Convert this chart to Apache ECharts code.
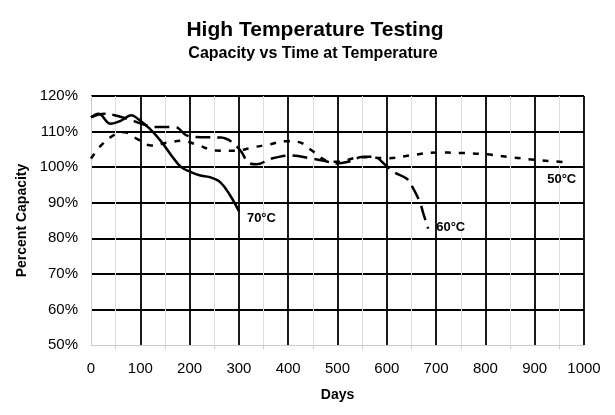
<!DOCTYPE html>
<html><head><meta charset="utf-8">
<script src="https://cdn.jsdelivr.net/npm/echarts@6/dist/echarts.min.js"></script>
<style>html,body{margin:0;padding:0;background:#fff}#c{width:615px;height:415px}</style>
</head><body><div id="c"></div>
<script>
const title = "High Temperature Testing";
const subtitle = "Capacity vs Time at Temperature";
const xName = "Days";
const yName = "Percent Capacity";
const seriesNames = ["70°C", "60°C", "50°C"];
const s70 = [[0,114],[15,115],[40,112.2],[60,113],[82,114.6],[95,113.6],[119,110.8],[143,107.1],[163,103.3],[183,100],[200,98.8],[220,97.7],[241,97.2],[262,95.8],[282,92.1],[300,87.6]];
const s60 = [[0,114],[28,115],[48,114.6],[82,113.2],[102,112.2],[129,111.3],[170,111.3],[193,109],[210,108.5],[264,108.3],[285,107.1],[305,104.3],[319,101.3],[336,100.8],[366,102.4],[407,103.3],[448,102.4],[475,101.7],[498,101],[522,101.5],[552,102.9],[572,102.9],[600,100.3],[613,98.7],[640,96.8],[650,94.9],[667,90.2],[674,87],[684,82.7]];
const s50 = [[0,102.4],[21,106.2],[49,109.2],[68,109.8],[95,107.8],[122,106.1],[156,106.9],[183,107.4],[217,106.2],[251,104.7],[291,104.6],[333,105.7],[360,106.3],[394,107.3],[420,107.1],[448,104.7],[475,102],[498,101.5],[549,102.8],[603,102.5],[647,103.3],[701,104.1],[748,104],[803,103.6],[857,102.7],[911,101.9],[945,101.6],[972,101.2]];
const font = "'Liberation Sans', Arial, sans-serif";
const chart = echarts.init(document.getElementById('c'));
function mk(name, data, type, lab){
  return {name, type:'line', data, smooth:0.4, showSymbol:false, symbol:'none',
    lineStyle:{color:'#000', width:2.5, type},
    endLabel:{show:true, formatter:name, color:'#000', fontWeight:'bold', fontSize:13, fontFamily:font, offset:lab},
    emphasis:{disabled:true}};
}
chart.setOption({
  animation:false,
  title:[{text:title, left:310, top:15, textAlign:'center',
          textStyle:{fontSize:21, fontWeight:'bold', color:'#000', fontFamily:font}},
         {text:subtitle, left:308, top:41, textAlign:'center',
          textStyle:{fontSize:16, fontWeight:'bold', color:'#000', fontFamily:font}}],
  grid:{left:91, right:31, top:96, bottom:70, containLabel:false},
  xAxis:{type:'value', min:0, max:1000, interval:100, name:xName, nameLocation:'middle', nameGap:43,
    nameTextStyle:{fontWeight:'bold', fontSize:14, color:'#000', fontFamily:font},
    axisLine:{show:true, lineStyle:{color:'#ccc', width:1}},
    axisTick:{show:false},
    minorTick:{show:true, splitNumber:2, length:4, lineStyle:{color:'#ccc'}},
    minorSplitLine:{show:true, lineStyle:{color:'#ddd', width:1}},
    splitLine:{show:true, showMinLine:false, lineStyle:{color:'#000', width:1.8}},
    axisLabel:{color:'#000', fontSize:15, fontFamily:font, margin:16, formatter:v => String(v)}},
  yAxis:{type:'value', min:50, max:120, interval:10, name:yName, nameLocation:'middle', nameGap:62, nameRotate:90,
    nameTextStyle:{fontWeight:'bold', fontSize:14, color:'#000', fontFamily:font},
    axisLine:{show:true, lineStyle:{color:'#ccc', width:1}},
    axisTick:{show:false},
    splitLine:{show:true, showMinLine:false, lineStyle:{color:'#000', width:1.8}},
    axisLabel:{color:'#000', fontSize:15, fontFamily:font, margin:13, formatter:'{value}%'}},
  series:[mk(seriesNames[0], s70, 'solid', [0,7]), mk(seriesNames[1], s60, {type:[15,7]}.type, [0,-1]), mk(seriesNames[2], s50, [6,8], [-31,17])]
});
</script></body></html>
